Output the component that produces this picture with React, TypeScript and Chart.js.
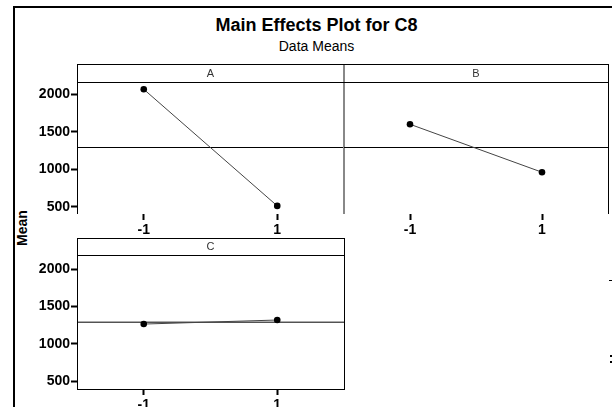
import React, { useEffect, useRef } from 'react';
import { Chart, registerables } from 'chart.js';

Chart.register(...registerables);

// ---- data ----
const levels = [-1, 1];
const meansA = [2067, 511];
const meansB = [1600, 960];
const meansC = [1265, 1319];
const grandMean = 1290;
const yTickValues = [500, 1000, 1500, 2000];
const factorNames = ['A', 'B', 'C'];
const chartTitle = 'Main Effects Plot for C8';
const chartSubtitle = 'Data Means';
const yAxisTitle = 'Mean';

const FONT = '"Liberation Sans", Arial, sans-serif';
const X_MIN = -2;
const X_MAX = 2;

type Frame = { left?: string; right?: string; bottom?: boolean; stripH: number };

function framePlugin(f: Frame) {
  return {
    id: 'panelFrame',
    afterDraw(chart: any) {
      const { ctx, chartArea: a } = chart;
      const top = a.top - f.stripH + 0.5;
      const st = a.top + 0.5;
      const L = a.left + 0.5;
      ctx.save();
      const seg = (x1: number, y1: number, x2: number, y2: number, color = '#000', w = 1) => {
        ctx.strokeStyle = color;
        ctx.lineWidth = w;
        ctx.beginPath();
        ctx.moveTo(x1, y1);
        ctx.lineTo(x2, y2);
        ctx.stroke();
      };
      if (f.left) seg(L, top, L, a.bottom, f.left);
      if (f.right === '#888') seg(a.right, top - 0.5, a.right, a.bottom, f.right, 2);
      else if (f.right) seg(a.right + 0.5, top - 0.5, a.right + 0.5, a.bottom + (f.bottom ? 1 : 0), f.right);
      seg(a.left, top, a.right + 1, top);
      seg(a.left, st, a.right + 1, st);
      if (f.bottom) seg(a.left, a.bottom + 0.5, a.right + 1, a.bottom + 0.5);
      ctx.restore();
    },
  };
}

type PanelProps = {
  name: string;
  means: number[];
  yMin: number;
  yMax: number;
  showY: boolean;
  frame: Frame;
  left: number;
  top: number;
  width: number;
  height: number;
  padding: { top: number; left: number; right: number; bottom: number };
};

function Panel(p: PanelProps) {
  const ref = useRef<HTMLCanvasElement>(null);
  useEffect(() => {
    if (!ref.current) return;
    const tickFont = { family: FONT, size: 14, weight: 'bold' as const };
    const chart = new Chart(ref.current, {
      type: 'line',
      data: {
        datasets: [
          {
            data: levels.map((x, i) => ({ x, y: p.means[i] })),
            borderColor: '#444',
            borderWidth: 1,
            pointRadius: 3.3,
            pointBackgroundColor: '#000',
            pointBorderColor: '#000',
            pointBorderWidth: 0,
          },
          {
            data: [
              { x: X_MIN, y: grandMean },
              { x: X_MAX, y: grandMean },
            ],
            borderColor: '#000',
            borderWidth: 1,
            pointRadius: 0,
          },
        ],
      },
      options: {
        animation: false,
        responsive: false,
        maintainAspectRatio: false,
        events: [],
        layout: { padding: p.padding },
        plugins: {
          legend: { display: false },
          tooltip: { enabled: false },
          title: {
            display: true,
            text: p.name,
            fullSize: false,
            color: '#333',
            font: { family: FONT, size: 11, weight: 'normal', lineHeight: '13px' },
            padding: { top: 2, bottom: 2 },
          },
        },
        scales: {
          x: {
            type: 'linear',
            min: X_MIN,
            max: X_MAX,
            afterBuildTicks: (s: any) => {
              s.ticks = levels.map((v) => ({ value: v }));
            },
            afterFit: (s: any) => {
              s.height = 25;
            },
            ticks: {
              font: tickFont,
              color: '#000',
              padding: 2,
              maxRotation: 0,
              autoSkip: false,
              callback: (v: any) => String(v),
            },
            grid: { drawOnChartArea: false, drawTicks: true, tickLength: 6, tickWidth: 2, tickColor: '#000' },
            border: { display: false },
          },
          y: {
            display: p.showY,
            type: 'linear',
            min: p.yMin,
            max: p.yMax,
            afterBuildTicks: (s: any) => {
              s.ticks = yTickValues.map((v) => ({ value: v }));
            },
            afterFit: (s: any) => {
              s.width = p.showY ? 77 : 0;
            },
            ticks: {
              font: tickFont,
              color: '#000',
              padding: 1,
              autoSkip: false,
              callback: (v: any) => String(v),
            },
            grid: { drawOnChartArea: false, drawTicks: true, tickLength: 6, tickWidth: 2, tickColor: '#000' },
            border: { display: false },
          },
        },
      },
      plugins: [framePlugin(p.frame)],
    } as any);
    return () => chart.destroy();
  }, []);
  return (
    <canvas
      ref={ref}
      width={p.width}
      height={p.height}
      style={{ position: 'absolute', left: p.left, top: p.top, width: p.width, height: p.height }}
    />
  );
}

export default function App() {
  return (
    <div
      style={{
        position: 'fixed',
        left: 0,
        top: 0,
        width: 612,
        height: 407,
        overflow: 'hidden',
        background: '#fff',
        fontFamily: FONT,
      }}
    >
      {/* outer frame */}
      <div style={{ position: 'absolute', left: 13, top: 6, width: 2, height: 401, background: '#000' }} />
      <div style={{ position: 'absolute', left: 13, top: 6, width: 599, height: 2, background: '#000' }} />

      <div
        style={{
          position: 'absolute',
          left: 316.5,
          top: 16,
          transform: 'translateX(-50%)',
          whiteSpace: 'nowrap',
          fontSize: 18,
          lineHeight: '18px',
          fontWeight: 'bold',
          color: '#000',
        }}
      >
        {chartTitle}
      </div>
      <div
        style={{
          position: 'absolute',
          left: 316.5,
          top: 39,
          transform: 'translateX(-50%)',
          whiteSpace: 'nowrap',
          fontSize: 14,
          lineHeight: '14px',
          color: '#000',
        }}
      >
        {chartSubtitle}
      </div>
      <div
        style={{
          position: 'absolute',
          left: 22,
          top: 227.5,
          transform: 'translate(-50%, -50%) rotate(-90deg)',
          whiteSpace: 'nowrap',
          fontSize: 14,
          lineHeight: '14px',
          fontWeight: 'bold',
          color: '#000',
        }}
      >
        {yAxisTitle}
      </div>

      <Panel
        name={factorNames[0]}
        means={meansA}
        yMin={403}
        yMax={2164}
        showY={true}
        frame={{ left: '#000', right: '#888', stripH: 18 }}
        left={0}
        top={64}
        width={350}
        height={175}
        padding={{ top: 1, left: 0, right: 6, bottom: 0 }}
      />
      <Panel
        name={factorNames[1]}
        means={meansB}
        yMin={403}
        yMax={2164}
        showY={false}
        frame={{ right: '#000', stripH: 18 }}
        left={338}
        top={64}
        width={274}
        height={175}
        padding={{ top: 1, left: 6, right: 3, bottom: 0 }}
      />
      <Panel
        name={factorNames[2]}
        means={meansC}
        yMin={393}
        yMax={2192}
        showY={true}
        frame={{ left: '#000', right: '#000', bottom: true, stripH: 17 }}
        left={0}
        top={237}
        width={350}
        height={177}
        padding={{ top: 1, left: 0, right: 6, bottom: 0 }}
      />

      {/* small marks at the right edge */}
      <div style={{ position: 'absolute', left: 609, top: 280, width: 3, height: 1, background: '#000' }} />
      <div style={{ position: 'absolute', left: 610, top: 355, width: 2, height: 2, background: '#000' }} />
      <div style={{ position: 'absolute', left: 610, top: 361, width: 2, height: 2, background: '#000' }} />
    </div>
  );
}
